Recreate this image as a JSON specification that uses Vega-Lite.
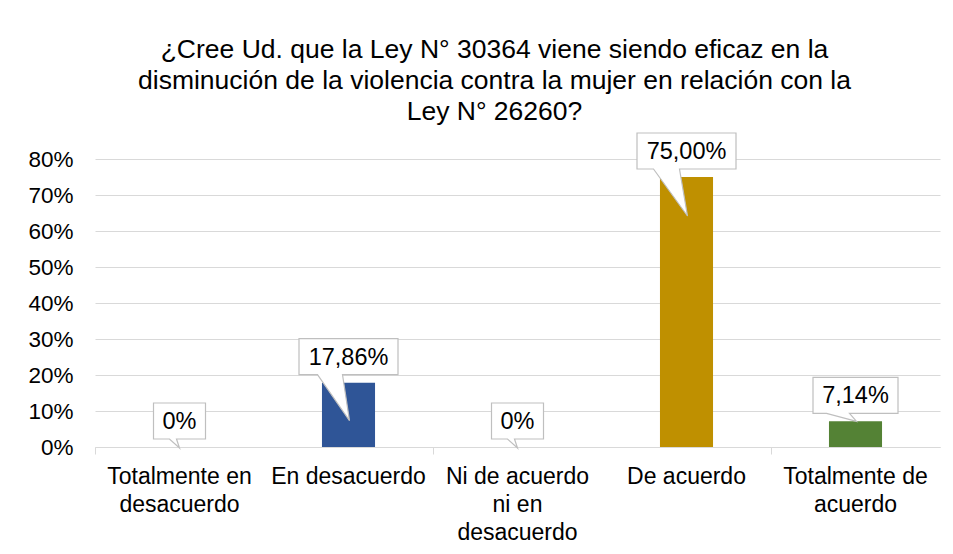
{
  "$schema": "https://vega.github.io/schema/vega-lite/v6.json",
  "width": 845,
  "height": 288,
  "autosize": {"type": "none"},
  "padding": {"left": 95, "top": 159, "right": 13, "bottom": 107},
  "background": "white",
  "config": {
    "font": "Liberation Sans",
    "view": {"stroke": null}
  },
  "title": {
    "text": ["¿Cree Ud. que la Ley N° 30364 viene siendo eficaz en la", "disminución de la violencia contra la mujer en relación con la", "Ley N° 26260?"],
    "fontSize": 26.5,
    "fontWeight": "normal",
    "color": "#000000",
    "lineHeight": 31,
    "anchor": "middle",
    "dx": -23,
    "offset": 5
  },
  "data": {
    "values": [
      {"Respuesta": "Totalmente en desacuerdo", "Porcentaje": 0, "Etiqueta": "0%"},
      {"Respuesta": "En desacuerdo", "Porcentaje": 0.1786, "Etiqueta": "17,86%"},
      {"Respuesta": "Ni de acuerdo ni en desacuerdo", "Porcentaje": 0, "Etiqueta": "0%"},
      {"Respuesta": "De acuerdo", "Porcentaje": 0.75, "Etiqueta": "75,00%"},
      {"Respuesta": "Totalmente de acuerdo", "Porcentaje": 0.0714, "Etiqueta": "7,14%"}
    ]
  },
  "encoding": {
    "x": {
      "field": "Respuesta",
      "type": "nominal",
      "sort": null,
      "scale": {"paddingInner": 0, "paddingOuter": 0},
      "axis": {
        "title": null,
        "labelAngle": 0,
        "labelFontSize": 23,
        "labelColor": "#000000",
        "labelLineHeight": 28,
        "labelPadding": 11,
        "labelLimit": 300,
        "bandPosition": 0,
        "domainColor": "#D9D9D9",
        "domainWidth": 1,
        "tickColor": "#D9D9D9",
        "tickSize": 7,
        "tickOpacity": {"condition": {"test": "datum.value == 'Totalmente en desacuerdo' || datum.value == 'Ni de acuerdo ni en desacuerdo' || datum.value == 'Totalmente de acuerdo'", "value": 1}, "value": 0},
        "grid": false,
        "labelExpr": "datum.value == 'Totalmente en desacuerdo' ? ['Totalmente en', 'desacuerdo'] : datum.value == 'Ni de acuerdo ni en desacuerdo' ? ['Ni de acuerdo', 'ni en', 'desacuerdo'] : datum.value == 'Totalmente de acuerdo' ? ['Totalmente de', 'acuerdo'] : datum.value"
      }
    },
    "y": {
      "field": "Porcentaje",
      "type": "quantitative",
      "scale": {"domain": [0, 0.8], "nice": false},
      "axis": {
        "title": null,
        "values": [0, 0.1, 0.2, 0.3, 0.4, 0.5, 0.6, 0.7, 0.8],
        "format": ".0%",
        "labelFontSize": 22.5,
        "labelColor": "#000000",
        "labelPadding": 22,
        "ticks": false,
        "domain": false,
        "gridColor": "#D9D9D9",
        "gridWidth": 1
      }
    }
  },
  "layer": [
    {
      "mark": {"type": "bar", "width": {"band": 0.314}},
      "encoding": {
        "color": {
          "field": "Respuesta",
          "type": "nominal",
          "scale": {
            "domain": ["Totalmente en desacuerdo", "En desacuerdo", "Ni de acuerdo ni en desacuerdo", "De acuerdo", "Totalmente de acuerdo"],
            "range": ["#4472C4", "#2F5597", "#A5A5A5", "#BF9000", "#548235"]
          },
          "legend": null
        }
      }
    },
    {
      "mark": {"type": "point", "filled": true, "fill": "white", "stroke": "#BFBFBF", "strokeWidth": 1.2, "opacity": 1, "fillOpacity": 1, "size": 4, "yOffset": -26},
      "encoding": {
        "shape": {
          "field": "Respuesta",
          "type": "nominal",
          "scale": {
            "domain": ["Totalmente en desacuerdo", "En desacuerdo", "Ni de acuerdo ni en desacuerdo", "De acuerdo", "Totalmente de acuerdo"],
            "range": [
              "M-26,-18H26V18H-3L0,27L-10,18H-26Z",
              "M-49.5,-18H49.5V18H-6L1,64L-31,18H-49.5Z",
              "M-26,-18H26V18H-3L0,27L-10,18H-26Z",
              "M-49.5,-18H49.5V18H-7L1,65L-33,18H-49.5Z",
              "M-42.5,-18H42.5V18H-6L1,26L-29,18H-42.5Z"
            ]
          },
          "legend": null
        }
      }
    },
    {
      "mark": {"type": "text", "fontSize": 23.5, "color": "#000000", "baseline": "middle", "align": "center", "yOffset": -25},
      "encoding": {
        "text": {"field": "Etiqueta", "type": "nominal"}
      }
    }
  ]
}
